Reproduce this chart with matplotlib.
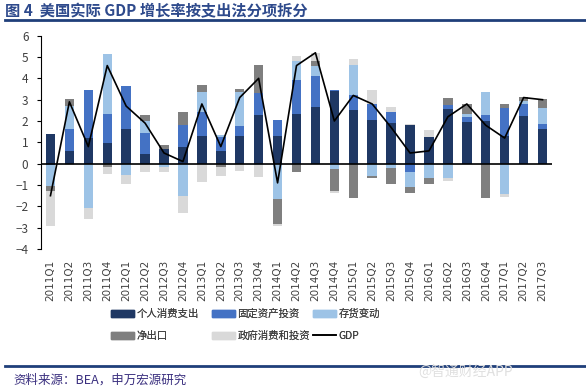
import matplotlib.pyplot as plt
import matplotlib.lines as mlines
import matplotlib.patches as mpatches
import numpy as np

plt.rcParams['font.family'] = ['Noto Sans CJK SC', 'DejaVu Sans']

# 季度
quarters = ['2011Q1', '2011Q2', '2011Q3', '2011Q4', '2012Q1', '2012Q2', '2012Q3', '2012Q4',
            '2013Q1', '2013Q2', '2013Q3', '2013Q4', '2014Q1', '2014Q2', '2014Q3', '2014Q4',
            '2015Q1', '2015Q2', '2015Q3', '2015Q4', '2016Q1', '2016Q2', '2016Q3', '2016Q4',
            '2017Q1', '2017Q2', '2017Q3']

# 各分项对GDP增长的拉动（百分点）
pce = [1.39, 0.58, 1.20, 0.96, 1.64, 0.44, 0.70, 0.77, 1.31, 0.58, 1.28, 2.30, 1.28, 2.34,
       2.64, 3.39, 2.50, 2.03, 1.92, 1.81, 1.23, 2.56, 1.94, 1.98, 1.28, 2.23, 1.62]
fixed_inv = [-0.05, 1.06, 2.27, 1.35, 2.02, 1.00, 0.00, 1.03, 1.11, 0.65, 0.47, 1.01, 0.75, 1.57,
             1.49, 0.05, 0.70, 0.78, 0.50, -0.37, 0.00, 0.21, 0.23, 0.29, 1.31, 0.55, 0.26]
inventory = [-1.00, 1.05, -2.08, 2.84, -0.53, 0.54, -0.16, -1.52, 0.92, 0.13, 1.61, -0.06, -1.67, 0.92,
             0.43, -0.23, 1.41, -0.58, -0.19, -0.71, -0.69, -0.66, 0.17, 1.09, -1.44, 0.14, 0.74]
net_exports = [-0.23, 0.36, 0.00, -0.16, 0.00, 0.32, 0.16, 0.62, 0.33, -0.16, 0.14, 1.30, -1.17, -0.39,
               0.27, -1.05, -1.62, -0.08, -0.78, -0.28, -0.26, 0.31, 0.46, -1.59, 0.22, 0.22, 0.41]
government = [-1.64, -0.08, -0.53, -0.34, -0.41, -0.37, -0.23, -0.78, -0.84, -0.42, -0.36, -0.56, -0.08, 0.20,
              0.36, -0.11, 0.30, 0.63, 0.24, 0.05, 0.33, -0.15, 0.00, 0.00, -0.11, 0.00, 0.00]
gdp = [-1.5, 2.9, 0.8, 4.6, 2.7, 1.9, 0.5, 0.1, 2.8, 0.8, 3.1, 4.0, -0.9, 4.6,
       5.2, 2.0, 3.2, 2.8, 1.7, 0.5, 0.6, 2.2, 2.8, 1.8, 1.2, 3.1, 3.0]

series = [('个人消费支出', pce, '#1F3864'),
          ('固定资产投资', fixed_inv, '#4472C4'),
          ('存货变动', inventory, '#9DC3E6'),
          ('净出口', net_exports, '#7F7F7F'),
          ('政府消费和投资', government, '#D9D9D9')]

fig = plt.figure(figsize=(5.86, 3.88), dpi=100)
ax = fig.add_axes([41 / 586, 1 - 249 / 388, 511 / 586, (249 - 35.7) / 388])

x = np.arange(len(quarters))
pos_bottom = np.zeros(len(x))
neg_bottom = np.zeros(len(x))
handles = {}
for name, vals, color in series:
    v = np.array(vals)
    bottom = np.where(v >= 0, pos_bottom, neg_bottom)
    ax.bar(x, v, width=0.5, bottom=bottom, color=color, label=name, zorder=2)
    pos_bottom += np.where(v > 0, v, 0)
    neg_bottom += np.where(v < 0, v, 0)
    handles[name] = mpatches.Patch(color=color, label=name)

ax.plot(x, gdp, color='black', lw=1.2, zorder=3)
handles['GDP'] = mlines.Line2D([], [], color='black', lw=1.2, label='GDP')

ax.axhline(0, color='black', lw=1.2, zorder=4)
ax.set_xlim(-0.5, len(x) - 0.5)
ax.set_ylim(-4, 6)
ax.set_yticks(range(-4, 7))
ax.set_xticks(x)
ax.set_xticklabels(quarters, rotation=90, fontsize=7.5, color='#404040', family='DejaVu Sans')
ax.tick_params(axis='x', length=0, pad=8)
ax.tick_params(axis='y', labelsize=8.5, labelcolor='#404040', length=3, direction='out', pad=6)
for s in ['top', 'right', 'bottom']:
    ax.spines[s].set_visible(False)
ax.spines['left'].set_color('black')

# 图例（两行三列）
legend_pos = [('个人消费支出', 111, 314), ('固定资产投资', 212, 314), ('存货变动', 313, 314),
              ('净出口', 111, 336), ('政府消费和投资', 212, 336), ('GDP', 313, 336)]
for name, lx, ly in legend_pos:
    leg = fig.legend(handles=[handles[name]], loc='center left',
                     bbox_to_anchor=(lx / 586, 1 - ly / 388), frameon=False,
                     fontsize=7.5, handlelength=2.2, handletextpad=0.25,
                     borderpad=0, borderaxespad=0, labelcolor='#404040')
    fig.add_artist(leg)

# 标题和来源
fig.text(5 / 586, 1 - 11 / 388, '图 4  美国实际 GDP 增长率按支出法分项拆分', fontsize=11,
         fontweight='bold', color='#2E4A8C', va='center', ha='left')
fig.add_artist(mlines.Line2D([5 / 586, 1], [1 - 20 / 388, 1 - 20 / 388], color='#1F3F7A', lw=2))
fig.add_artist(mlines.Line2D([5 / 586, 1], [1 - 366 / 388, 1 - 366 / 388], color='#1F3F7A', lw=2))
fig.text(13 / 586, 1 - 380 / 388, '资料来源：BEA，申万宏源研究', fontsize=9, color='#3A2F7F',
         va='center', ha='left')
fig.text(418 / 586, 1 - 372 / 388, '@智通财经APP', fontsize=10, color='#E0E0E0',
         va='center', ha='left')

plt.savefig('out.png', dpi=100)
